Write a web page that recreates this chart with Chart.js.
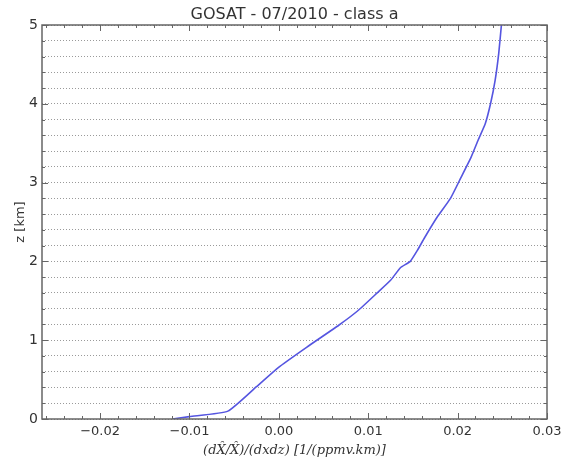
<!DOCTYPE html>
<html>
<head>
<meta charset="utf-8">
<script src="https://cdn.jsdelivr.net/npm/chart.js@4.4.0/dist/chart.umd.min.js"></script>
<style>
  body { margin: 0; background: #fff; }
  canvas { display: block; }
</style>
</head>
<body>
<canvas id="profileChart" width="561" height="460"></canvas>
<script>
// profile: height (km) and sensitivity value
const heights = [0.00, 0.03, 0.10, 0.41, 0.65, 0.91, 1.19, 1.38, 1.60, 1.76, 1.92, 2.00,
                 2.14, 2.30, 2.56, 2.80, 3.07, 3.32, 3.54, 3.75, 4.01, 4.30, 4.64, 5.00];
const sensitivity = [-0.0119, -0.0100, -0.0057, -0.0025, -0.0001, 0.0031, 0.0067, 0.0089, 0.0110, 0.0125, 0.0136, 0.0147,
                     0.0155, 0.0163, 0.0177, 0.0192, 0.0204, 0.0215, 0.0223, 0.0231, 0.0237, 0.0242, 0.0246, 0.0249];

const xTicks = [-0.02, -0.01, 0.00, 0.01, 0.02, 0.03];
const xTickLabels = ['\u22120.02', '\u22120.01', '0.00', '0.01', '0.02', '0.03'];
const yTicks = [0, 1, 2, 3, 4, 5];
const xMin = -0.0265, xMax = 0.03;
const yMin = 0, yMax = 5;
const xMinorStep = 0.002;
const yMinorStep = 0.2;

const chartTitle = 'GOSAT - 07/2010 - class a';
const axisColor = '#666';
const textColor = '#333';

function stepsBetween(min, max, step) {
  let out = [];
  let start = Math.ceil(min / step - 1e-9);
  for (let i = start; i * step <= max + 1e-9; i++) out.push(+(i * step).toFixed(6));
  return out;
}

// frame, inward ticks on all four sides and the title centred over the plot
const frameAndTicks = {
  id: 'frameAndTicks',
  afterDatasetsDraw(chart) {
    const c = chart.ctx, a = chart.chartArea;
    const xs = chart.scales.x, ys = chart.scales.y;
    c.save();
    c.strokeStyle = axisColor;
    c.lineWidth = 1;
    c.beginPath();
    stepsBetween(xMin, xMax, xMinorStep).forEach(v => {
      const px = Math.round(xs.getPixelForValue(v)) + 0.5;
      const major = xTicks.some(t => Math.abs(t - v) < 1e-6);
      const len = major ? 6 : 3;
      c.moveTo(px, a.bottom); c.lineTo(px, a.bottom - len);
      c.moveTo(px, a.top); c.lineTo(px, a.top + len);
    });
    stepsBetween(yMin, yMax, yMinorStep).forEach(v => {
      const py = Math.round(ys.getPixelForValue(v)) + 0.5;
      const major = yTicks.some(t => Math.abs(t - v) < 1e-6);
      const len = major ? 6 : 3;
      c.moveTo(a.left, py); c.lineTo(a.left + len, py);
      c.moveTo(a.right, py); c.lineTo(a.right - len, py);
    });
    c.stroke();
    c.lineWidth = 1.5;
    c.strokeRect(a.left, a.top, a.right - a.left, a.bottom - a.top);

    c.fillStyle = textColor;
    c.font = '16px "DejaVu Sans"';
    c.textAlign = 'center';
    c.textBaseline = 'alphabetic';
    c.fillText(chartTitle, (a.left + a.right) / 2, a.top - 6);
    c.restore();
  }
};

const ctx = document.getElementById('profileChart').getContext('2d');
const profileChart = new Chart(ctx, {
  type: 'scatter',
  data: {
    datasets: [{
      data: heights.map((z, i) => ({ x: sensitivity[i], y: z })),
      showLine: true,
      borderColor: '#5555e0',
      borderWidth: 1.6,
      pointRadius: 0,
      tension: 0.15
    }]
  },
  options: {
    responsive: false,
    animation: false,
    layout: { padding: { left: 0, right: 14, top: 25, bottom: 0 } },
    plugins: {
      legend: { display: false },
      tooltip: { enabled: false },
      title: { display: false }
    },
    scales: {
      x: {
        type: 'linear',
        min: xMin,
        max: xMax,
        afterBuildTicks: s => { s.ticks = xTicks.map(v => ({ value: v })); },
        afterFit: s => { s.height = 41; s.paddingLeft = 0; s.paddingRight = 0; },
        ticks: {
          color: textColor,
          font: { family: 'DejaVu Sans', size: 13 },
          padding: 5,
          maxRotation: 0,
          callback: (v) => {
            const i = xTicks.findIndex(t => Math.abs(t - v) < 1e-9);
            return i >= 0 ? xTickLabels[i] : '';
          }
        },
        grid: { display: false, drawTicks: false },
        border: { display: false },
        title: {
          display: true,
          text: '(dX\u0302/X\u0302)/(dxdz) [1/(ppmv.km)]',
          color: textColor,
          font: { family: 'DejaVu Serif', size: 13, style: 'italic' },
          padding: { top: 0, bottom: 2 }
        }
      },
      y: {
        type: 'linear',
        min: yMin,
        max: yMax,
        afterBuildTicks: s => { s.ticks = stepsBetween(yMin, yMax, yMinorStep).map(v => ({ value: v })); },
        afterFit: s => { s.width = 42; s.paddingTop = 0; s.paddingBottom = 0; },
        ticks: {
          color: textColor,
          font: { family: 'DejaVu Sans', size: 14 },
          padding: 4,
          autoSkip: false,
          callback: (v) => yTicks.some(t => Math.abs(t - v) < 1e-9) ? String(Math.round(v)) : ''
        },
        grid: {
          drawTicks: false,
          color: '#9a9a9a',
          lineWidth: 1
        },
        border: { display: false, dash: [1, 2] },
        title: {
          display: true,
          text: 'z [km]',
          color: textColor,
          font: { family: 'DejaVu Sans', size: 13 },
          padding: { top: 13, bottom: 0 }
        }
      }
    }
  },
  plugins: [frameAndTicks]
});
</script>
</body>
</html>
